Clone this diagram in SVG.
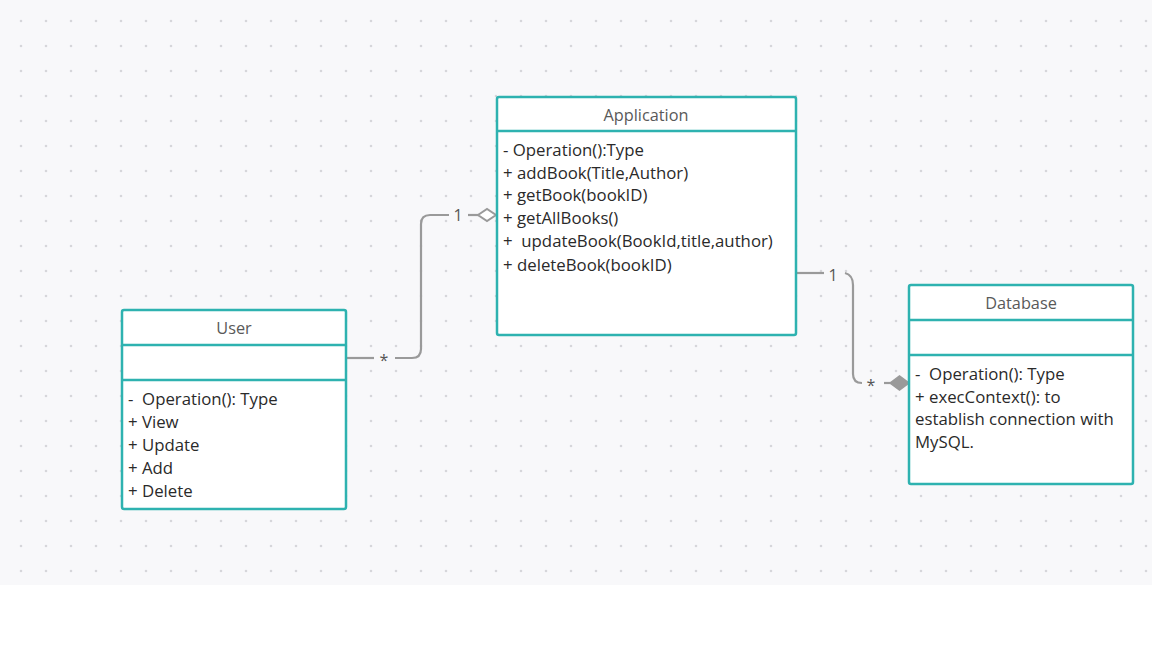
<svg xmlns="http://www.w3.org/2000/svg" width="1152" height="648" viewBox="0 0 1152 648">
<defs>
<pattern id="dots" x="0" y="0" width="25" height="25" patternUnits="userSpaceOnUse">
<circle cx="21" cy="21" r="1.3" fill="#d6d6da"/>
</pattern>
<style>
.box{fill:#fff;stroke:#2eb2b0;stroke-width:2.5}
.div{stroke:#2eb2b0;stroke-width:2.5}
.hdr{font-family:"Open Sans","Noto Sans",sans-serif;font-size:16.3px;fill:#595959;text-anchor:middle}
.txt{font-family:"Open Sans","Noto Sans",sans-serif;font-size:16.8px;fill:#2a2a2a}
.con{fill:none;stroke:#9a9a9a;stroke-width:2.2}
.lbl{font-family:"Open Sans","Noto Sans",sans-serif;font-size:16px;fill:#555;text-anchor:middle}
</style>
</defs>
<rect x="0" y="0" width="1152" height="585" fill="#f8f8fa"/>
<rect x="0" y="0" width="1152" height="585" fill="url(#dots)"/>
<rect x="0" y="585" width="1152" height="63" fill="#fff"/>

<g id="connectors">
<path class="con" d="M347,358 H374"/>
<path class="con" d="M395,358 H412 Q421,358 421,349 V224 Q421,215 430,215 H449"/>
<path class="con" d="M468,215 H479"/>
<path d="M478,215 L487,209 L496,215 L487,221 Z" fill="#fff" stroke="#9a9a9a" stroke-width="2"/>
<text class="lbl" x="384" y="366">*</text>
<text class="lbl" x="458" y="221">1</text>
<path class="con" d="M797,273 H824"/>
<path class="con" d="M845,273 Q853,275 853,285 V374 Q853,383 862,383"/>
<path class="con" d="M884,383 H892"/>
<path d="M890,383 L899.5,376 L909,383 L899.5,390 Z" fill="#9a9a9a" stroke="#9a9a9a" stroke-width="1.5"/>
<text class="lbl" x="833" y="281">1</text>
<text class="lbl" x="871" y="391">*</text>
</g>

<g id="application">
<rect class="box" x="497" y="97" width="299" height="238" rx="2"/>
<line class="div" x1="497" y1="131" x2="796" y2="131"/>
<text class="hdr" x="646" y="121">Application</text>
<text class="txt" x="503" y="156">- Operation():Type</text>
<text class="txt" x="503" y="179">+ addBook(Title,Author)</text>
<text class="txt" x="503" y="201">+ getBook(bookID)</text>
<text class="txt" x="503" y="224">+ getAllBooks()</text>
<text class="txt" x="503" y="247" xml:space="preserve">+  updateBook(BookId,title,author)</text>
<text class="txt" x="503" y="271">+ deleteBook(bookID)</text>
</g>

<g id="user">
<rect class="box" x="122" y="310" width="224" height="199" rx="2"/>
<line class="div" x1="122" y1="345" x2="346" y2="345"/>
<line class="div" x1="122" y1="380" x2="346" y2="380"/>
<text class="hdr" x="234" y="334">User</text>
<text class="txt" x="128" y="405" xml:space="preserve">-  Operation(): Type</text>
<text class="txt" x="128" y="428">+ View</text>
<text class="txt" x="128" y="451">+ Update</text>
<text class="txt" x="128" y="474">+ Add</text>
<text class="txt" x="128" y="497">+ Delete</text>
</g>

<g id="database">
<rect class="box" x="909" y="285" width="224" height="199" rx="2"/>
<line class="div" x1="909" y1="320" x2="1133" y2="320"/>
<line class="div" x1="909" y1="355" x2="1133" y2="355"/>
<text class="hdr" x="1021" y="309">Database</text>
<text class="txt" x="915" y="380" xml:space="preserve">-  Operation(): Type</text>
<text class="txt" x="915" y="403">+ execContext(): to</text>
<text class="txt" x="915" y="425">establish connection with</text>
<text class="txt" x="915" y="448">MySQL.</text>
</g>
</svg>
